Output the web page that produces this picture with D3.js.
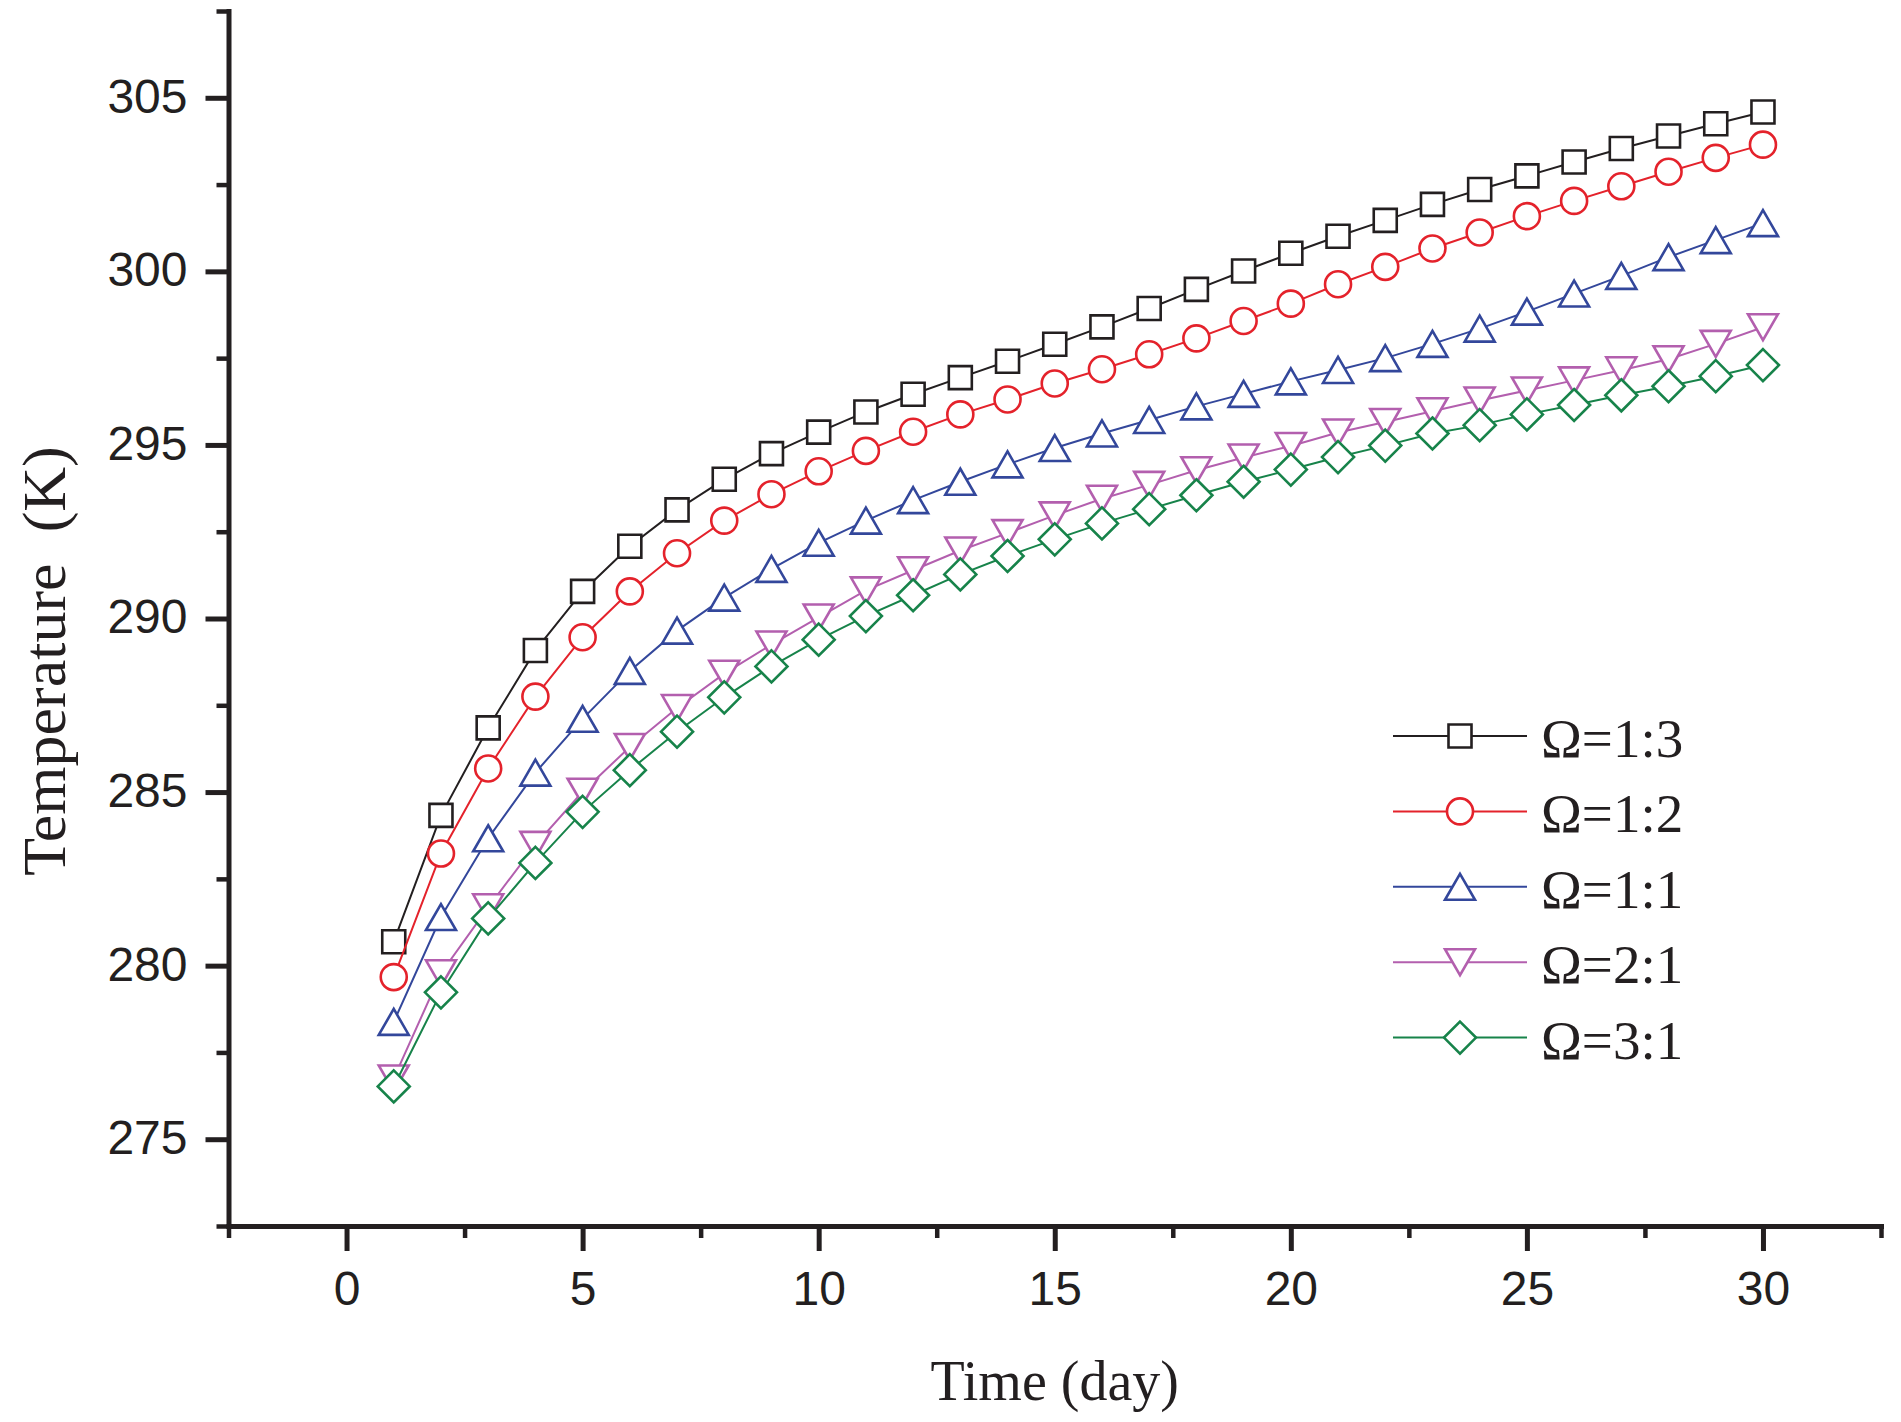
<!DOCTYPE html>
<html>
<head>
<meta charset="utf-8">
<script src="https://cdn.jsdelivr.net/npm/d3@7"></script>
<style>
  body { margin: 0; background: #fff; }
  .tick text { font-family: "Liberation Sans", Arial, sans-serif; font-size: 48px; fill: #231f20; }
  .title { font-family: "Liberation Serif", "Times New Roman", serif; fill: #231f20; }
</style>
</head>
<body>
<svg id="chart" width="1901" height="1422"></svg>
<script>
// days on the x axis
var days = [1, 2, 3, 4, 5, 6, 7, 8, 9, 10, 11, 12, 13, 14, 15,
            16, 17, 18, 19, 20, 21, 22, 23, 24, 25, 26, 27, 28, 29, 30];

// temperature (K) per ratio
var omega13 = [280.69, 284.33, 286.85, 289.08, 290.78, 292.08, 293.13, 294.01, 294.75, 295.37,
               295.95, 296.46, 296.94, 297.41, 297.90, 298.40, 298.93, 299.48, 300.01, 300.52,
               301.01, 301.47, 301.93, 302.36, 302.75, 303.15, 303.54, 303.90, 304.25, 304.59];
var omega12 = [279.67, 283.23, 285.68, 287.75, 289.46, 290.78, 291.88, 292.82, 293.58, 294.24,
               294.83, 295.38, 295.88, 296.31, 296.77, 297.18, 297.61, 298.07, 298.57, 299.07,
               299.63, 300.13, 300.66, 301.12, 301.59, 302.03, 302.45, 302.87, 303.27, 303.65];
var omega11 = [278.38, 281.40, 283.67, 285.56, 287.11, 288.49, 289.65, 290.60, 291.43, 292.18,
               292.82, 293.41, 293.94, 294.44, 294.91, 295.33, 295.72, 296.11, 296.47, 296.83,
               297.16, 297.50, 297.91, 298.35, 298.84, 299.36, 299.87, 300.41, 300.90, 301.39];
var omega21 = [276.75, 279.78, 281.68, 283.48, 285.01, 286.30, 287.42, 288.41, 289.25, 290.03,
               290.81, 291.39, 291.96, 292.46, 292.97, 293.45, 293.85, 294.27, 294.64, 294.97,
               295.36, 295.66, 295.97, 296.28, 296.57, 296.86, 297.15, 297.47, 297.91, 298.39];
var omega31 = [276.52, 279.23, 281.36, 282.96, 284.43, 285.63, 286.74, 287.73, 288.62, 289.39,
               290.07, 290.67, 291.27, 291.80, 292.28, 292.74, 293.15, 293.55, 293.94, 294.29,
               294.65, 294.98, 295.33, 295.57, 295.88, 296.15, 296.43, 296.69, 296.98, 297.30];

var seriesNames = ['\u03A9=1:3', '\u03A9=1:2', '\u03A9=1:1', '\u03A9=2:1', '\u03A9=3:1'];

var xMajor = [0, 5, 10, 15, 20, 25, 30];
var xMinor = [-2.5, 2.5, 7.5, 12.5, 17.5, 22.5, 27.5, 32.5];
var yMajor = [275, 280, 285, 290, 295, 300, 305];
var yMinor = [272.5, 277.5, 282.5, 287.5, 292.5, 297.5, 302.5, 307.5];

var series = [
  {name: seriesNames[0], values: omega13, color: '#231f20', shape: 'square'},
  {name: seriesNames[1], values: omega12, color: '#e4222b', shape: 'circle'},
  {name: seriesNames[2], values: omega11, color: '#33479b', shape: 'up'},
  {name: seriesNames[3], values: omega21, color: '#b35fae', shape: 'down'},
  {name: seriesNames[4], values: omega31, color: '#17834a', shape: 'diamond'}
];

var shapes = {
  square: 'M-11.5,-11.5H11.5V11.5H-11.5Z',
  circle: 'M13,0A13,13 0 1,1 -13,0A13,13 0 1,1 13,0Z',
  up: 'M0,-13L15,13H-15Z',
  down: 'M-15,-13H15L0,13Z',
  diamond: 'M0,-16L16,0L0,16L-16,0Z'
};

var svg = d3.select('#chart');

var x = d3.scaleLinear().domain([-2.5, 32.5]).range([228.5, 1881]),
    y = d3.scaleLinear().domain([272.5, 307.5]).range([1226, 11]);

var left = x.range()[0], right = x.range()[1],
    bottom = y.range()[0], top = y.range()[1];

// frame: top and right edges
svg.append('path')
    .attr('d', 'M' + left + ',' + top + 'H' + right + 'V' + bottom)
    .attr('fill', 'none')
    .attr('stroke', '#231f20')
    .attr('stroke-width', 5)
    .attr('stroke-linecap', 'square');

function styleAxis(g, width){
    g.select('.domain').attr('stroke', '#231f20').attr('stroke-width', 5)
        .attr('stroke-linecap', 'square');
    g.selectAll('.tick line').attr('stroke', '#231f20').attr('stroke-width', width);
}

// x axis, major + minor
svg.append('g')
    .attr('transform', 'translate(0,' + bottom + ')')
    .call(d3.axisBottom(x).tickValues(xMajor).tickSize(25).tickPadding(20).tickSizeOuter(0))
    .call(styleAxis, 5);

svg.append('g')
    .attr('transform', 'translate(0,' + bottom + ')')
    .call(d3.axisBottom(x).tickValues(xMinor).tickSize(12).tickFormat('').tickSizeOuter(0))
    .call(styleAxis, 4.5)
    .select('.domain').remove();

// y axis, major + minor
svg.append('g')
    .attr('transform', 'translate(' + left + ',0)')
    .call(d3.axisLeft(y).tickValues(yMajor).tickSize(23).tickPadding(18).tickSizeOuter(0))
    .call(styleAxis, 5)
    .selectAll('.tick text').attr('dy', '0.3em');

svg.append('g')
    .attr('transform', 'translate(' + left + ',0)')
    .call(d3.axisLeft(y).tickValues(yMinor).tickSize(12).tickFormat('').tickSizeOuter(0))
    .call(styleAxis, 4.5)
    .select('.domain').remove();

// lines and markers
var line = d3.line()
    .x(function(d, i){ return x(days[i]); })
    .y(function(d){ return y(d); });

var groups = svg.selectAll('g.series')
    .data(series)
    .enter()
    .append('g')
    .attr('class', 'series');

groups.append('path')
    .attr('d', function(s){ return line(s.values); })
    .attr('fill', 'none')
    .attr('stroke', function(s){ return s.color; })
    .attr('stroke-width', 2);

groups.each(function(s){
    d3.select(this).selectAll('path.marker')
        .data(s.values)
        .enter()
        .append('path')
        .attr('class', 'marker')
        .attr('d', shapes[s.shape])
        .attr('transform', function(d, i){ return 'translate(' + x(days[i]) + ',' + y(d) + ')'; })
        .attr('fill', '#fff')
        .attr('stroke', s.color)
        .attr('stroke-width', 2.6);
});

// legend
var legend = svg.append('g').attr('transform', 'translate(1393,736)');

var rows = legend.selectAll('g')
    .data(series)
    .enter()
    .append('g')
    .attr('transform', function(s, i){ return 'translate(0,' + (i * 75.4) + ')'; });

rows.append('line')
    .attr('x1', 0).attr('x2', 134)
    .attr('stroke', function(s){ return s.color; })
    .attr('stroke-width', 2);

rows.append('path')
    .attr('d', function(s){ return shapes[s.shape]; })
    .attr('transform', 'translate(67,0)')
    .attr('fill', '#fff')
    .attr('stroke', function(s){ return s.color; })
    .attr('stroke-width', 2.6);

rows.append('text')
    .attr('class', 'title')
    .attr('x', 148)
    .attr('y', 21)
    .style('font-size', '55px')
    .text(function(s){ return s.name; });

// axis titles
svg.append('text')
    .attr('class', 'title')
    .attr('x', (left + right) / 2)
    .attr('y', 1400)
    .attr('text-anchor', 'middle')
    .style('font-size', '56px')
    .text('Time (day)');

svg.append('text')
    .attr('class', 'title')
    .attr('transform', 'translate(65,661) rotate(-90)')
    .attr('text-anchor', 'middle')
    .style('font-size', '62px')
    .style('white-space', 'pre')
    .text('Temperature  (K)');
</script>
</body>
</html>
